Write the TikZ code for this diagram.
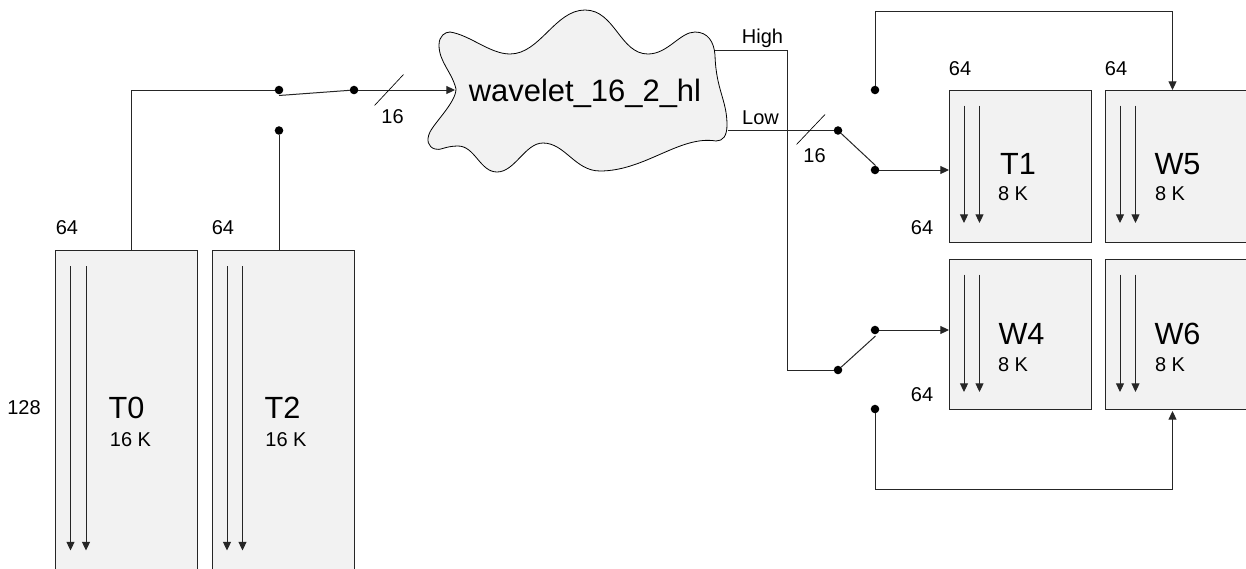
\documentclass[tikz,border=0pt]{standalone}
\usepackage{fontspec}
\setmainfont{Liberation Sans}
\usepackage{xcolor}
\usetikzlibrary{arrows.meta,calc}
\definecolor{blockgray}{HTML}{F2F2F2}
\tikzset{
  memblock/.style={draw=black!85,fill=blockgray,line width=0.75pt,anchor=north west,inner sep=0pt,outer sep=0pt,minimum width=106.5pt},
  sigdot/.style={circle,fill=black,inner sep=0pt,outer sep=0pt,minimum size=6.4pt},
  wire/.style={draw=black!85,line width=0.75pt},
  flow/.style={wire,-{Triangle[length=6.5pt,width=6pt]}},
  tick/.style={draw=black,line width=0.5pt},
  note/.style={font=\fontsize{15}{18}\selectfont,inner sep=0pt,text height=10.7pt,text depth=0pt},
  title/.style={font=\fontsize{23}{27}\selectfont,inner sep=0pt,text height=16.5pt,text depth=0pt},
}

\begin{document}
\begin{tikzpicture}[x=0.75pt,y=-0.75pt]
  \useasboundingbox (0,0) rectangle (1246,568);
  \clip (0,0) rectangle (1246,568);
  \foreach \n/\x/\y/\h/\tx/\sx/\ty/\sy/\size in {
    T0/55.5/250.5/241.5/126.5/130.5/407/439/16 K,
    T2/212/250.5/241.5/282.5/286/407/439/16 K,
    T1/949/90/114/1018/1013/163/193/8 K,
    W5/1105/90/114/1177.5/1170/163/193/8 K,
    W4/949/259/113/1021.5/1013/333/364/8 K,
    W6/1105/259/113/1177.5/1170/333/364/8 K} {
    \node[memblock,minimum height=\h pt] (\n) at (\x,\y) {};
    \node[title] (\n name) at (\tx,\ty) {\n};
    \node[note] (\n size) at (\sx,\sy) {\size};
  }
  \foreach \n/\l in {T0/300,T2/300,T1/133,W5/133,W4/133,W6/133} {
    \draw[flow] ($(\n.north west)+(15,15.5)$) -- ($(\n.north west)+(15,\l)$);
    \draw[flow] ($(\n.north west)+(30.5,15.5)$) -- ($(\n.north west)+(30.5,\l)$);
  }
  \foreach \n/\x/\y/\t in {
    wT0/67/227/64,wT2/223/227/64,wT1/960/68/64,wW5/1116/68/64,
    hT1/922/227/64,hW4/922/394/64,hT0/24/407/128,
    busIn/392.5/116/16,busOut/814.5/155/16,
    high/762.5/36/High,low/760.5/117/Low} {
    \node[note] (\n) at (\x,\y) {\t};
  }
  \draw[fill=blockgray,line width=0.6pt] (456,89)
    .. controls (452,72) and (439,62) .. (439,45)
    .. controls (439,36) and (445,32) .. (450,32)
    .. controls (470,35) and (490,54) .. (510,54)
    .. controls (540,54) and (555,10) .. (585,10)
    .. controls (615,10) and (620,54) .. (648,54)
    .. controls (668,54) and (680,32) .. (695,32)
    .. controls (708,32) and (714,42) .. (715,55)
    .. controls (716,90) and (727,100) .. (727,125)
    .. controls (727,136) and (723,141) .. (716,141)
    .. controls (680,135) and (645,171) .. (600,171)
    .. controls (575,171) and (565,143) .. (543,143)
    .. controls (525,143) and (515,172) .. (497,172)
    .. controls (480,172) and (475,146) .. (458,146)
    .. controls (445,146) and (440,151) .. (435,149)
    .. controls (428,147) and (426,140) .. (430,132)
    .. controls (435,122) and (456,102) .. (456,89) -- cycle;
  \node[title,font=\fontsize{23.2}{27}\selectfont] (wavelet) at (585,90) {wavelet\_16\_2\_hl};
  \node[sigdot] (inA) at (279,90) {};
  \node[sigdot] (inB) at (279,130.5) {};
  \node[sigdot] (inC) at (354,90) {};
  \node[sigdot] (lowD) at (838,130.5) {};
  \node[sigdot] (highD) at (838,370) {};
  \node[sigdot] (t1D) at (875,170) {};
  \node[sigdot] (w5D) at (875,90) {};
  \node[sigdot] (w4D) at (875,330) {};
  \node[sigdot] (w6D) at (875,409) {};
  \coordinate (cloudIn) at (455,90);
  \coordinate (cloudHigh) at (715,50.5);
  \coordinate (cloudLow) at (727.5,130.5);
  \coordinate (armIn) at (279,95.5);
  \coordinate (armLow) at (875.5,165.5);
  \coordinate (armHigh) at (875.5,336);
  \draw[wire] (T0.north -| 131,0) -- (131,90) -- (inA);
  \draw[wire] (T2.north -| inB) -- (inB);
  \draw[wire] (armIn) -- (inC);
  \draw[flow] (inC) -- (cloudIn);
  \draw[wire] (cloudHigh) -- (787,50.5) -- (787,370) -- (highD);
  \draw[wire] (cloudLow) -- (lowD);
  \draw[wire] (lowD) -- (armLow);
  \draw[wire] (highD) -- (armHigh);
  \draw[flow] (t1D) -- (t1D -| T1.west);
  \draw[flow] (w4D) -- (w4D -| W4.west);
  \draw[flow] (w5D) -- (875,11.5) -- (1172.5,11.5) -- (1172.5,90);
  \draw[flow] (w6D) -- (875,489) -- (1172.5,489) -- (1172.5,411);
  \draw[tick] (374.5,105.5) -- (403.5,74.5);
  \draw[tick] (796.5,144.5) -- (825,114.5);
\end{tikzpicture}
\end{document}
